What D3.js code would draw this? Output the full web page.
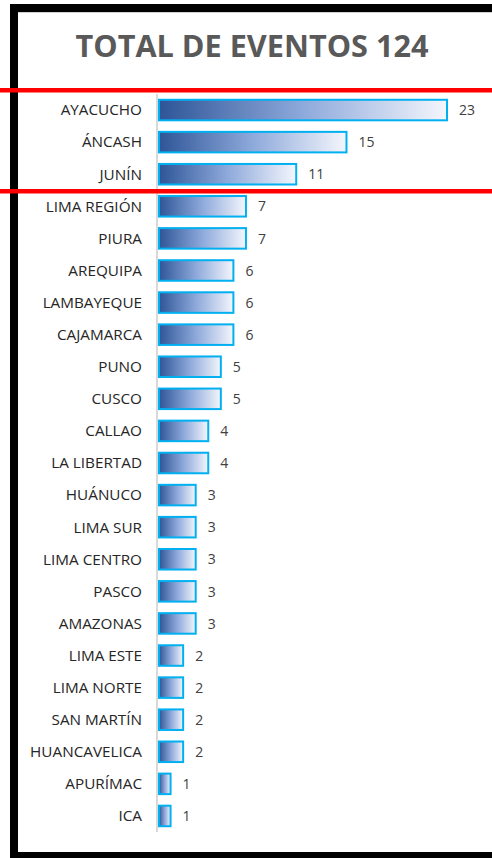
<!DOCTYPE html>
<html><head><meta charset="utf-8">
<script src="https://cdn.jsdelivr.net/npm/d3@7"></script>
<style>body{margin:0;background:#fff}svg{display:block}</style>
</head><body>
<script>
const categories = ["AYACUCHO","ÁNCASH","JUNÍN","LIMA REGIÓN","PIURA","AREQUIPA","LAMBAYEQUE","CAJAMARCA","PUNO","CUSCO","CALLAO","LA LIBERTAD","HUÁNUCO","LIMA SUR","LIMA CENTRO","PASCO","AMAZONAS","LIMA ESTE","LIMA NORTE","SAN MARTÍN","HUANCAVELICA","APURÍMAC","ICA"];
const values = [23,15,11,7,7,6,6,6,5,5,4,4,3,3,3,3,3,2,2,2,2,1,1];
const title = "TOTAL DE EVENTOS 124";

const W = 492, H = 858;
const svg = d3.select("body").append("svg").attr("width", W).attr("height", H);
svg.append("rect").attr("width", W).attr("height", H).attr("fill", "#fff");

// frame
svg.append("rect").attr("x", 10).attr("y", 4).attr("width", W - 10).attr("height", 8).attr("fill", "#000");
svg.append("rect").attr("x", 10).attr("y", 4).attr("width", 8).attr("height", H - 4).attr("fill", "#000");
svg.append("rect").attr("x", 10).attr("y", 852).attr("width", W - 10).attr("height", 6).attr("fill", "#000");
svg.append("line").attr("x1", 18).attr("x2", W).attr("y1", 12.5).attr("y2", 12.5).attr("stroke", "#d0d0d0").attr("stroke-width", 1);

const defs = svg.append("defs");
const g = defs.append("linearGradient").attr("id", "grad").attr("x1", "0%").attr("x2", "100%").attr("y1", "0%").attr("y2", "0%");
g.append("stop").attr("offset", "0%").attr("stop-color", "#2E5597");
g.append("stop").attr("offset", "50%").attr("stop-color", "#8EA9DB");
g.append("stop").attr("offset", "100%").attr("stop-color", "#F4F6FC");

// title
const t = svg.append("text").attr("x", 252).attr("y", 57).attr("text-anchor", "middle")
  .attr("font-family", "'Open Sans', sans-serif").attr("font-weight", 700).attr("font-size", 28)
  .attr("fill", "#595959").text(title);
const tw = t.node().getComputedTextLength();
t.attr("font-size", 28 * 353 / tw);

const x0 = 158;
const x = d3.scaleLinear().domain([0, 23]).range([x0, 447]);
const y = d3.scaleBand().domain(categories).range([94, 832]).paddingInner(0.36).paddingOuter(0.18);

svg.append("line").attr("x1", x0 - 1).attr("x2", x0 - 1).attr("y1", 94).attr("y2", 832)
  .attr("stroke", "#d9d9d9").attr("stroke-width", 2);

svg.selectAll("rect.bar").data(categories).join("rect").attr("class", "bar")
  .attr("x", x(0) + 1).attr("y", d => y(d))
  .attr("width", (d, i) => x(values[i]) - x(0) - 1).attr("height", y.bandwidth())
  .attr("fill", "url(#grad)").attr("stroke", "#00B0F0").attr("stroke-width", 2);

const lab = svg.selectAll("text.cat").data(categories).join("text").attr("class", "cat")
  .attr("x", 142).attr("y", d => y(d) + y.bandwidth() / 2).attr("dy", "0.35em")
  .attr("text-anchor", "end").attr("font-family", "'Open Sans', sans-serif").attr("font-size", 13)
  .attr("fill", "#262626").text(d => d);
// fit width of "LIMA CENTRO" to ~99px
const ref = lab.filter(d => d === "LIMA CENTRO").node().getComputedTextLength();
lab.attr("font-size", 13 * 99 / ref);

svg.selectAll("text.val").data(categories).join("text").attr("class", "val")
  .attr("x", (d, i) => x(values[i]) + 12).attr("y", d => y(d) + y.bandwidth() / 2).attr("dy", "0.37em")
  .attr("font-family", "'Open Sans', sans-serif").attr("font-size", 14)
  .attr("fill", "#404040").text((d, i) => values[i]);

// red highlight lines
svg.append("rect").attr("x", 0).attr("y", 88).attr("width", W).attr("height", 4.5).attr("fill", "#FF0000");
svg.append("rect").attr("x", 0).attr("y", 189).attr("width", W).attr("height", 4.5).attr("fill", "#FF0000");
</script>
</body></html>
